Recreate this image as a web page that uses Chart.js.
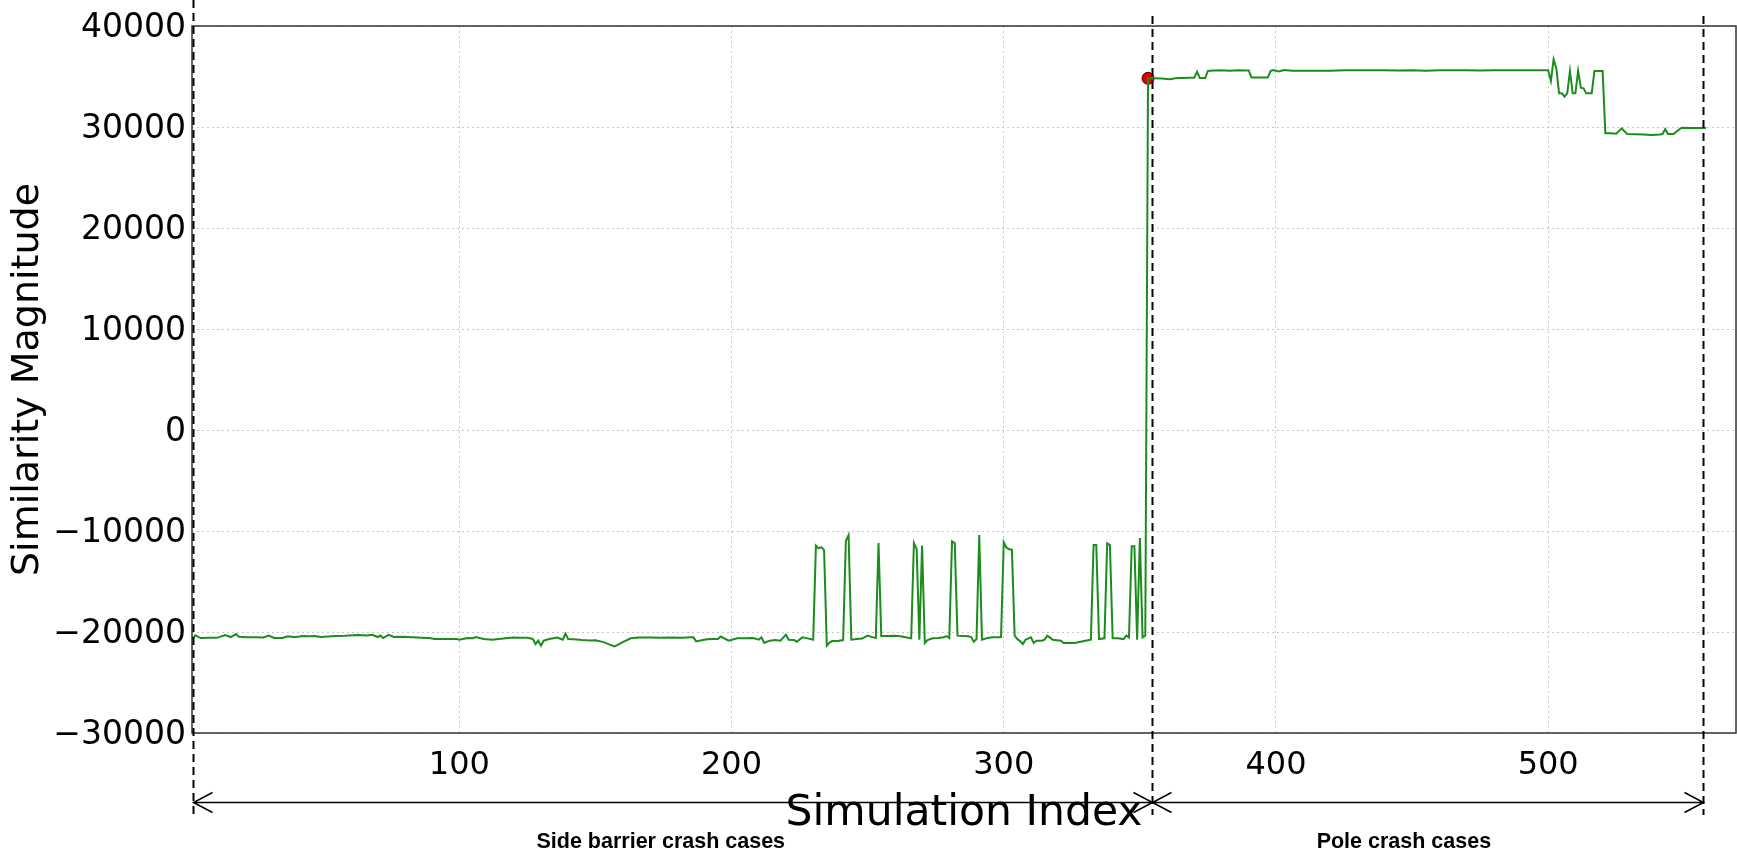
<!DOCTYPE html>
<html>
<head>
<meta charset="utf-8">
<script src="https://cdn.jsdelivr.net/npm/chart.js@4.4.1/dist/chart.umd.min.js"></script>
<style>
  html, body { margin: 0; padding: 0; background: #fff; }
  #wrap { width: 1737px; height: 852px; position: relative; }
</style>
</head>
<body>
<div id="wrap"><canvas id="simChart"></canvas></div>
<script>
// Side barrier crash cases: simulation index and similarity magnitude
const sideIndex = [
  2, 3, 5, 8, 11, 14, 16, 18, 19, 22, 25, 28, 30, 32, 35, 37, 39, 41, 42, 45,
  47, 49, 52, 53, 55, 58, 61, 63, 66, 68, 70, 71, 72, 74, 76, 79, 83, 86, 89, 91,
  95, 99, 100, 103, 105, 106, 109, 112, 117, 120, 122, 125, 127, 128, 129, 130, 131, 133, 136, 138,
  139, 140, 142, 145, 148, 150, 153, 155, 157, 158, 160, 163, 166, 170, 174, 178, 182, 185, 186, 187,
  189, 191, 193, 195, 196, 199, 202, 205, 208, 210, 211, 212, 214, 216, 218, 220, 221, 223, 224, 226,
  228, 230, 231, 232, 233, 234, 235, 236, 237, 239, 241, 242, 243, 244, 246, 248, 250, 252, 253, 254,
  255, 257, 260, 262, 264, 266, 267, 268, 269, 270, 271, 272, 274, 276, 278, 279, 280, 281, 282, 283,
  285, 287, 288, 289, 290, 291, 292, 294, 296, 298, 299, 300, 301, 302, 303, 304, 305, 306, 307, 308,
  310, 311, 312, 314, 315, 316, 318, 321, 322, 326, 330, 332, 333, 334, 335, 337, 338, 339, 340, 342,
  344, 345, 346, 347, 348, 349, 350, 351, 352
];
const sideValue = [
  -20690, -20330, -20600, -20560, -20580, -20300, -20500, -20200, -20480, -20530, -20520, -20540, -20350, -20590, -20600, -20430, -20500, -20480, -20400, -20430,
  -20390, -20500, -20450, -20430, -20400, -20380, -20320, -20300, -20350, -20280, -20500, -20350, -20600, -20280, -20500, -20480, -20520, -20560, -20600, -20700,
  -20700, -20700, -20760, -20600, -20620, -20500, -20700, -20760, -20620, -20550, -20560, -20560, -20690, -21200, -20860, -21360, -20860, -20700, -20550, -20760,
  -20150, -20700, -20720, -20800, -20850, -20820, -21000, -21220, -21430, -21300, -21000, -20620, -20550, -20540, -20560, -20540, -20560, -20530, -20530, -20930,
  -20820, -20720, -20700, -20690, -20450, -20860, -20620, -20620, -20600, -20760, -20530, -21090, -20860, -20800, -20860, -20260, -20760, -20800, -20960, -20530,
  -20630, -20760, -11450, -11720, -11600, -11900, -21350, -21050, -20900, -20900, -20800, -10960, -10400, -20760, -20700, -20650, -20360, -20530, -20600, -11190,
  -20400, -20400, -20360, -20430, -20530, -20630, -11190, -11780, -20760, -11450, -21090, -20800, -20630, -20600, -20530, -20400, -20600, -11020, -11200, -20360,
  -20400, -20430, -20500, -20960, -20700, -10400, -20760, -20600, -20530, -20530, -20500, -11120, -11650, -11800, -11850, -20360, -20700, -20900, -21190, -20760,
  -20530, -21090, -20860, -20860, -20760, -20360, -20760, -20860, -21090, -21090, -20860, -20760, -11390, -11390, -20700, -20630, -11220, -11390, -20630, -20630,
  -20700, -20360, -20530, -11520, -11520, -20760, -10700, -20530, -20360
];

// Pole crash cases
const poleIndex = [
  353, 355, 358, 361, 363, 365, 368, 370, 371, 372, 374, 375, 377, 380, 383, 386, 389, 390, 391, 394,
  397, 398, 399, 401, 403, 406, 410, 415, 420, 425, 430, 435, 440, 445, 450, 455, 460, 465, 470, 475,
  480, 485, 490, 495, 500, 501, 502, 503, 504, 505, 506, 507, 508, 509, 510, 511, 512, 513, 514, 516,
  517, 520, 521, 523, 525, 527, 529, 532, 535, 538, 541, 542, 543, 544, 546, 549, 552, 555, 558
];
const poleValue = [
  34820, 34820, 34790, 34730, 34820, 34850, 34870, 34870, 35480, 34850, 34850, 35550, 35600, 35610, 35580, 35610, 35600, 35600, 34890, 34890,
  34890, 35540, 35640, 35500, 35640, 35580, 35580, 35560, 35580, 35620, 35620, 35630, 35610, 35600, 35610, 35580, 35620, 35620, 35610, 35600,
  35630, 35620, 35630, 35620, 35610, 34560, 36700, 35800, 33330, 33330, 33000, 33330, 35550, 33330, 33330, 35550, 33900, 33830, 33330, 33330,
  35550, 35550, 29370, 29370, 29340, 29870, 29310, 29280, 29250, 29220, 29250, 29300, 29800, 29310, 29310, 29930, 29900, 29910, 29900
];

// first pole case, marked in red
const markIndex = [353];
const markValue = [34820];

// case group boundaries and labels
const boundaries = [2, 354.5, 557];
const groupLabels = ['Side barrier crash cases', 'Pole crash cases'];
const groupLabelAt = [174, 447];

const xTicks = [100, 200, 300, 400, 500];
const yTicks = [-30000, -20000, -10000, 0, 10000, 20000, 30000, 40000];

const toPoints = (xs, ys) => xs.map((v, i) => ({ x: v, y: ys[i] }));
const linePoints = toPoints(sideIndex, sideValue).concat(toPoints(poleIndex, poleValue));

// frame, dashed boundaries, arrows and group labels
const annotations = {
    id: 'annotations',
    afterDraw(chart) {
        const { ctx, chartArea: a, scales: { x } } = chart;
        ctx.save();

        ctx.strokeStyle = '#333';
        ctx.lineWidth = 1.5;
        ctx.strokeRect(a.left, a.top, a.right - a.left, a.bottom - a.top);

        const px = boundaries.map(b => Math.round(x.getPixelForValue(b)) + 0.5);

        ctx.strokeStyle = '#000';
        ctx.lineWidth = 2;
        ctx.setLineDash([8, 5]);
        px.forEach((p, i) => {
            ctx.beginPath();
            ctx.moveTo(p, i === 0 ? 0 : a.top - 10);
            ctx.lineTo(p, a.bottom + 82);
            ctx.stroke();
        });
        ctx.setLineDash([]);

        // double arrows between boundaries
        const ay = a.bottom + 69.5;
        ctx.lineWidth = 1.5;
        for (let i = 0; i < px.length - 1; i++) {
            const x0 = px[i], x1 = px[i + 1];
            ctx.beginPath();
            ctx.moveTo(x0, ay);
            ctx.lineTo(x1, ay);
            ctx.moveTo(x0 + 19, ay - 10);
            ctx.lineTo(x0, ay);
            ctx.lineTo(x0 + 19, ay + 10);
            ctx.moveTo(x1 - 19, ay - 10);
            ctx.lineTo(x1, ay);
            ctx.lineTo(x1 - 19, ay + 10);
            ctx.stroke();
        }

        ctx.fillStyle = '#000';
        ctx.font = 'bold 21.5px "Liberation Sans", Arial, sans-serif';
        ctx.textAlign = 'center';
        ctx.textBaseline = 'middle';
        groupLabels.forEach((t, i) => {
            ctx.fillText(t, x.getPixelForValue(groupLabelAt[i]), a.bottom + 109);
        });
        ctx.restore();
    }
};

const fmt = v => String(v).replace('-', '\u2212');

new Chart(document.getElementById('simChart'), {
    type: 'line',
    data: {
        datasets: [{
            data: linePoints,
            borderColor: '#1c8c1c',
            borderWidth: 2,
            pointRadius: 0,
            fill: false,
            tension: 0
        }, {
            data: toPoints(markIndex, markValue),
            showLine: false,
            pointRadius: 6,
            pointBackgroundColor: '#e00000',
            pointBorderColor: '#500000',
            pointBorderWidth: 1
        }]
    },
    options: {
        responsive: true,
        maintainAspectRatio: false,
        animation: false,
        layout: { autoPadding: false, padding: { left: 5, right: 1, top: 26, bottom: 13 } },
        plugins: {
            legend: { display: false },
            tooltip: { enabled: false }
        },
        scales: {
            x: {
                type: 'linear',
                min: 1.8,
                max: 569,
                afterBuildTicks: s => { s.ticks = xTicks.map(v => ({ value: v })); },
                afterFit: s => { s.height = 106; s.paddingLeft = 0; s.paddingRight = 0; },
                grid: { color: '#c8c8c8', lineWidth: 1, drawTicks: false },
                border: { display: false, dash: [2, 3] },
                ticks: {
                    autoSkip: false,
                    maxRotation: 0,
                    padding: 13,
                    color: '#000',
                    font: { family: 'DejaVu Sans', size: 32 },
                    callback: v => fmt(v)
                },
                title: {
                    display: true,
                    text: 'Simulation Index',
                    color: '#000',
                    font: { family: 'DejaVu Sans', size: 42.5 },
                    padding: 0
                }
            },
            y: {
                min: -30000,
                max: 40000,
                afterBuildTicks: s => { s.ticks = yTicks.map(v => ({ value: v })); },
                afterFit: s => { s.width = 187; },
                grid: { color: '#c8c8c8', lineWidth: 1, drawTicks: false },
                border: { display: false, dash: [2, 3] },
                ticks: {
                    padding: 6,
                    labelOffset: 2,
                    color: '#000',
                    font: { family: 'DejaVu Sans', size: 33 },
                    callback: v => fmt(v)
                },
                title: {
                    display: true,
                    text: 'Similarity Magnitude',
                    color: '#000',
                    font: { family: 'DejaVu Sans', size: 38 },
                    padding: 0
                }
            }
        }
    },
    plugins: [annotations]
});
</script>
</body>
</html>
